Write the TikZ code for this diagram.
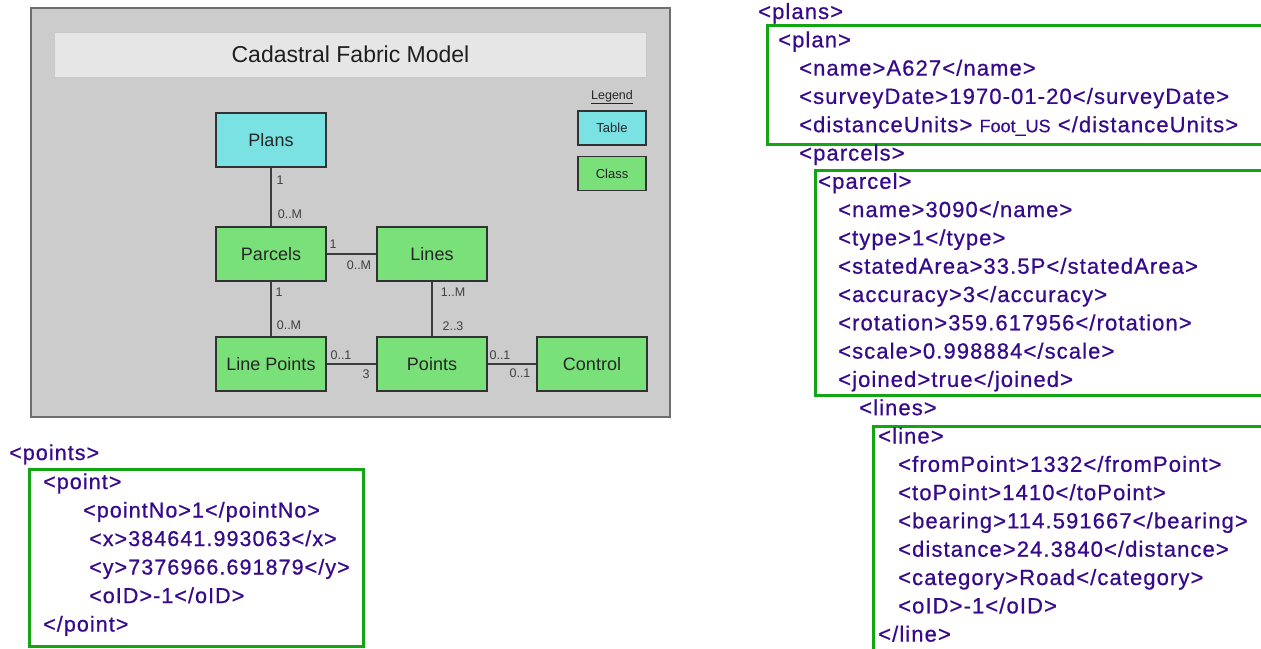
\documentclass[tikz,border=0pt]{standalone}
\usepackage{fontspec}
\setmainfont{Liberation Sans}
\newfontfamily\xmlfont[LetterSpace=5,FakeBold=0.7]{Liberation Sans}
\newfontfamily\unitfont[FakeBold=0.4]{Liberation Sans}
\definecolor{xmlc}{RGB}{55,10,140}
\definecolor{xgreen}{RGB}{20,165,20}
\definecolor{clsgreen}{RGB}{122,224,122}
\definecolor{tblcyan}{RGB}{122,226,226}
\definecolor{panelgray}{RGB}{204,204,204}
\definecolor{panelborder}{RGB}{110,110,110}
\definecolor{titlefill}{RGB}{230,230,230}
\definecolor{titleborder}{RGB}{200,200,200}
\definecolor{boxborder}{RGB}{50,50,50}
\definecolor{connc}{RGB}{60,60,60}
\begin{document}
\begin{tikzpicture}[x=1pt,y=-1pt,
  cls/.style={draw=boxborder, line width=1.3pt, fill=clsgreen, minimum width=110pt, minimum height=54pt, inner sep=0pt, text=black!85, font=\fontsize{18}{21}\selectfont},
  tbl/.style={cls, fill=tblcyan},
  legbox/.style={cls, minimum width=68pt, minimum height=34pt, font=\fontsize{13}{15}\selectfont},
  lbl/.style={inner sep=0pt, text=black!75, font=\fontsize{12.5}{14}\selectfont},
  conn/.style={draw=connc, line width=1.5pt},
  xml/.style={anchor=base west, inner sep=0pt, text=xmlc, font=\xmlfont\fontsize{22}{25}\selectfont},
  xmlp/.style={xml, font=\xmlfont\fontsize{21.5}{25}\selectfont},
  grn/.style={draw=xgreen, line width=3pt}
]
\useasboundingbox (0,0) rectangle (1261,648);
\fill[white] (0,0) rectangle (1261,648);

% ---------- model panel ----------
\draw[fill=panelgray, draw=panelborder, line width=1.5pt] (31,8) rectangle (670,417);
\node[draw=titleborder, fill=titlefill, line width=1pt, minimum width=592pt, minimum height=45pt, inner sep=0pt, text=black!88, font=\fontsize{23}{26}\selectfont] (title) at (350.5,54.5) {Cadastral Fabric Model};

\node[tbl] (plans) at (271,140) {Plans};
\node[cls] (parcels) at (271,254) {Parcels};
\node[cls] (lines) at (432,254) {Lines};
\node[cls] (linepoints) at (271,364) {Line Points};
\node[cls] (points) at (432,364) {Points};
\node[cls] (control) at (592,364) {Control};

\draw[conn] (plans) -- (parcels);
\draw[conn] (parcels) -- (lines);
\draw[conn] (parcels) -- (linepoints);
\draw[conn] (lines) -- (points);
\draw[conn] (linepoints) -- (points);
\draw[conn] (points) -- (control);

\node[lbl] (m1) at (280,180) {1};
\node[lbl] (m2) at (290,214) {0..M};
\node[lbl] (m3) at (333,244) {1};
\node[lbl] (m4) at (359,265) {0..M};
\node[lbl] (m5) at (279,292) {1};
\node[lbl] (m6) at (289,325) {0..M};
\node[lbl] (m7) at (453,292) {1..M};
\node[lbl] (m8) at (453,326) {2..3};
\node[lbl] (m9) at (341,355) {0..1};
\node[lbl] (m10) at (366,374) {3};
\node[lbl] (m11) at (500,355) {0..1};
\node[lbl] (m12) at (520,373) {0..1};

% legend
\node[lbl, text=black!85, font=\fontsize{12.5}{13}\selectfont] (legend) at (612,97) {\underline{Legend}};
\node[legbox, fill=tblcyan] (legtable) at (612,128) {Table};
\node[legbox] (legclass) at (612,173.5) {\raisebox{-7pt}{Class}};

% ---------- points xml ----------
\draw[grn] (29,469) rectangle (363,646);
\node[xmlp] (p0) at (9,460) {<points>};
\node[xmlp] (p1) at (43,489) {<point>};
\node[xmlp] (p2) at (83,517.5) {<pointNo>1</pointNo>};
\node[xmlp] (p3) at (89,546) {<x>384641.993063</x>};
\node[xmlp] (p4) at (89,574.5) {<y>7376966.691879</y>};
\node[xmlp] (p5) at (89,603) {<oID>-1</oID>};
\node[xmlp] (p6) at (43,631.5) {</point>};

% ---------- plans xml ----------
\draw[grn] (767,25) rectangle (1268,144);
\draw[grn] (815,170) rectangle (1268,395);
\draw[grn] (873,426) rectangle (1268,654);

\node[xml] (r0) at (758,19) {<plans>};
\node[xml] (r1) at (778,47.3) {<plan>};
\node[xml] (r2) at (799,75.6) {<name>A627</name>};
\node[xml] (r3) at (799,103.9) {<surveyDate>1970-01-20</surveyDate>};
\node[xml] (r4) at (799,132.2) {<distanceUnits> {\unitfont\fontsize{18}{20}\selectfont Foot\_US} </distanceUnits>};
\node[xml] (r5) at (799,160.5) {<parcels>};
\node[xml] (r6) at (818,188.8) {<parcel>};
\node[xml] (r7) at (838,217.1) {<name>3090</name>};
\node[xml] (r8) at (838,245.4) {<type>1</type>};
\node[xml] (r9) at (838,273.7) {<statedArea>33.5P</statedArea>};
\node[xml] (r10) at (838,302) {<accuracy>3</accuracy>};
\node[xml] (r11) at (838,330.3) {<rotation>359.617956</rotation>};
\node[xml] (r12) at (838,358.6) {<scale>0.998884</scale>};
\node[xml] (r13) at (838,386.9) {<joined>true</joined>};
\node[xml] (r14) at (859,415.2) {<lines>};
\node[xml] (r15) at (878,443.5) {<line>};
\node[xml] (r16) at (898,471.8) {<fromPoint>1332</fromPoint>};
\node[xml] (r17) at (898,500.1) {<toPoint>1410</toPoint>};
\node[xml] (r18) at (898,528.4) {<bearing>114.591667</bearing>};
\node[xml] (r19) at (898,556.7) {<distance>24.3840</distance>};
\node[xml] (r20) at (898,585) {<category>Road</category>};
\node[xml] (r21) at (898,613.3) {<oID>-1</oID>};
\node[xml] (r22) at (878,641.6) {</line>};
\end{tikzpicture}
\end{document}
